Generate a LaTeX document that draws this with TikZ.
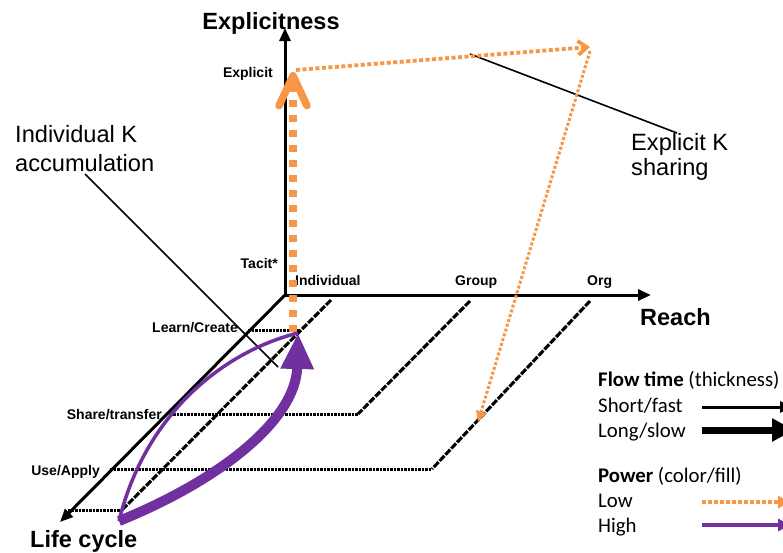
\documentclass[tikz,border=0pt]{standalone}
\usepackage{fontspec}
\setmainfont{Liberation Sans}
\newfontfamily\legendfont{Carlito}
\usetikzlibrary{arrows.meta, positioning}
\definecolor{lowpower}{HTML}{F79646}
\definecolor{highpower}{HTML}{7030A0}

\begin{document}
\begin{tikzpicture}[
            x=1pt, y=-1pt,
            axis/.style={line width=3pt, -{Triangle[length=13pt, width=11pt]}},
            level line/.style={line width=3pt, dash pattern=on 2.5pt off 1pt},
            depth line/.style={line width=3.1pt, dash pattern=on 7pt off 1.5pt},
            callout/.style={line width=1.6pt},
            axis label/.style={font=\fontsize{23.5}{28}\selectfont\bfseries, inner sep=0pt},
            tick label/.style={font=\fontsize{14}{17}\selectfont\bfseries, inner sep=0pt},
            note/.style={font=\fontsize{23.6}{29}\selectfont, inner sep=0pt, anchor=base west},
            legend/.style={font=\legendfont\fontsize{20.8}{25}\selectfont, inner sep=0pt, anchor=base west}
        ]
        \useasboundingbox (0,0) rectangle (783,552);

        % the three axes
        \coordinate (origin) at (285,295);
        \coordinate (explicitness end) at (285,28);
        \coordinate (reach end) at (651,295);
        \coordinate (life end) at (60,522);
        \draw[axis] (origin) -- (explicitness end);
        \draw[axis] (origin) -- (reach end);
        \draw[axis] (origin) -- (life end);

        \node[axis label, anchor=base] (explicitness) at (271,29) {Explicitness};
        \node[axis label, anchor=base west] (reach) at (640,325) {Reach};
        \node[axis label, anchor=base west] (life cycle) at (30,547) {Life cycle};

        \node[tick label, anchor=base east] (explicit) at (273,77) {Explicit};
        \node[tick label, anchor=base east] (tacit) at (278,268) {Tacit*};
        \node[tick label, anchor=base west] (individual) at (295,285) {Individual};
        \node[tick label, anchor=base west] (group) at (455,285) {Group};
        \node[tick label, anchor=base west] (org) at (587,285) {Org};
        \node[tick label, anchor=base east] (learn) at (238,332) {Learn/Create};
        \node[tick label, anchor=base east] (share) at (162,419) {Share/transfer};
        \node[tick label, anchor=base east] (use) at (100,475) {Use/Apply};

        % life cycle levels and reach lines
        \coordinate (learn start) at (248,330);
        \coordinate (learn end) at (300,330);
        \coordinate (share start) at (173,414);
        \coordinate (share end) at (358,414);
        \coordinate (use start) at (110,469);
        \coordinate (use end) at (432,469);
        \coordinate (base start) at (68,510);
        \coordinate (base end) at (122,510);
        \coordinate (individual top) at (331,300);
        \coordinate (group top) at (470,301);
        \coordinate (org top) at (590,301);

        \draw[level line] (learn start) -- (learn end);
        \draw[level line] (share start) -- (share end);
        \draw[level line] (use start) -- (use end);
        \draw[level line] (base start) -- (base end);
        \draw[depth line] (individual top) -- (base end);
        \draw[depth line] (group top) -- (share end);
        \draw[depth line] (org top) -- (use end);

        % callouts
        \node[note] (accum a) at (15,142) {Individual K};
        \node[note] (accum b) at (15,171) {accumulation};
        \coordinate (accum from) at (85,174);
        \coordinate (accum to) at (278,367);
        \draw[callout] (accum from) -- (accum to);

        \node[note] (sharing a) at (631,150) {Explicit K};
        \node[note] (sharing b) at (631,175) {sharing};
        \coordinate (sharing from) at (677,133);
        \coordinate (sharing to) at (470,54);
        \draw[callout] (sharing from) -- (sharing to);

        % flows
        \coordinate (create point) at (298,333);
        \coordinate (apply point) at (119,521);
        \coordinate (explicit point) at (293,72);
        \coordinate (top corner) at (590,47);
        \coordinate (org point) at (478,422);

        \draw[lowpower, line width=7.5pt, dash pattern=on 7pt off 8pt,
            -{Straight Barb[length=30pt, width=28pt, round]}]
            (293,332) -- (explicit point);
        \draw[lowpower, line width=3.8pt, dash pattern=on 4pt off 2.5pt,
            -{Straight Barb[length=9pt, width=14pt]}]
            (296,70) -- (top corner);
        \draw[lowpower, line width=3pt, dash pattern=on 3pt off 2pt,
            -{Triangle[length=11pt, width=10pt]}]
            (590,51) -- (org point);

        \draw[highpower, line width=3.5pt]
            (apply point) .. controls (145,415) and (222,352) .. (create point);
        \draw[highpower, line width=10pt, -{Triangle[length=36pt, width=31pt]}]
            (apply point) .. controls (220,480) and (296,420) .. (create point);

        % legend
        \node[legend] (flow time) at (598,386) {\textbf{Flow time} (thickness)};
        \node[legend] (short) at (598,412) {Short/fast};
        \node[legend] (long) at (598,437) {Long/slow};
        \node[legend] (power) at (598,482) {\textbf{Power} (color/fill)};
        \node[legend] (low) at (598,507) {Low};
        \node[legend] (high) at (598,532) {High};

        \draw[line width=3pt, -{Triangle[length=12pt, width=11pt]}] (702,407) -- (792,407);
        \draw[line width=7pt, -{Triangle[length=22pt, width=22pt]}] (702,430) -- (794,430);
        \draw[lowpower, line width=4pt, dash pattern=on 4pt off 2pt,
            -{Triangle[length=12pt, width=12pt]}] (702,502) -- (790,502);
        \draw[highpower, line width=4pt, -{Triangle[length=12pt, width=12pt]}] (702,525) -- (790,525);
    \end{tikzpicture}
\end{document}
